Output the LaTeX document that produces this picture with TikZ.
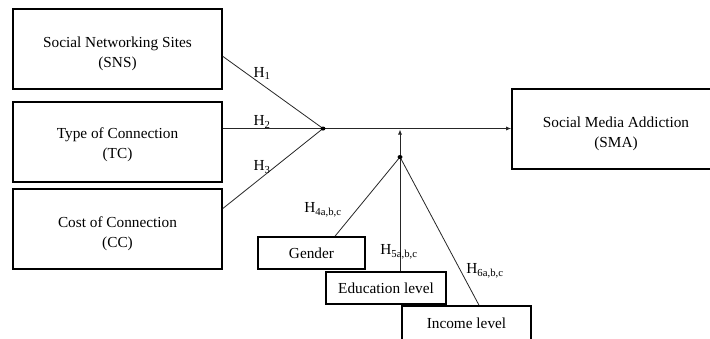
\documentclass[tikz,border=0pt]{standalone}
\usepackage{fontspec}
\setmainfont{Liberation Serif}
\usetikzlibrary{arrows.meta,calc,shapes.geometric}
\begin{document}
\begin{tikzpicture}[x=1pt,y=-1pt,
  box/.style={draw=black,line width=1.6pt,inner sep=0pt},
  btext/.style={inner sep=0pt,align=center,font=\fontsize{15.3}{20}\selectfont},
  link/.style={draw=black!85,line width=0.8pt},
  arr/.style={link,-{Latex[length=5pt,width=4pt]}},
  hlab/.style={font=\fontsize{15.3}{18}\selectfont,inner sep=0pt},
  dot/.style={fill=black,ellipse,inner sep=0pt,minimum width=5pt,minimum height=4pt,draw=none}]
\useasboundingbox (0,0) rectangle (710,338);
\clip (0,0) rectangle (710,338);
\node[box,minimum width=209pt,minimum height=80pt] (sns) at (117.5,49) {};
\node[box,minimum width=209pt,minimum height=80pt] (tc) at (117.5,142) {};
\node[box,minimum width=209pt,minimum height=80pt] (cc) at (117.5,229) {};
\node[box,minimum width=208pt,minimum height=80pt] (sma) at (616,129) {};
\node[btext] (snst) at ([yshift=-4.5pt]sns.center) {Social Networking Sites\\(SNS)};
\node[btext] (tct) at ([yshift=-3pt]tc.center) {Type of Connection\\(TC)};
\node[btext] (cct) at ([yshift=-5pt]cc.center) {Cost of Connection\\(CC)};
\node[btext] (smat) at ([yshift=-5pt]sma.center) {Social Media Addiction\\(SMA)};
\node[box,btext,minimum width=107pt,minimum height=32pt] (gender) at (311.5,253) {Gender};
\node[box,btext,minimum width=120pt,minimum height=32pt] (edu) at (386,288) {Education level};
\node[box,btext,minimum width=129pt,minimum height=34pt] (income) at (466.5,323) {Income level};
\coordinate (j1) at (323,128.5);
\coordinate (j2) at (400,157);
\coordinate (m) at (400,129.5);
\draw[link] (sns.-4.4) -- (j1);
\draw[link] (tc.east |- j1) -- (j1);
\draw[link] (cc.11.4) -- (j1);
\draw[arr] (j1) -- (sma.west |- j1);
\draw[link] ([xshift=23.5pt]gender.north) -- (j2);
\draw[link] (edu.north -| j2) -- (j2);
\draw[link] ([xshift=12.5pt]income.north) -- (j2);
\draw[arr] (j2) -- (m);
\node[dot] (d1) at (j1) {};
\node[dot] (d2) at (j2) {};
\node[hlab] (h1) at (262,73.5) {H\textsubscript{1}};
\node[hlab] (h2) at (262,122) {H\textsubscript{2}};
\node[hlab] (h3) at (262,167) {H\textsubscript{3}};
\node[hlab] (h4) at (323,210) {H\textsubscript{4a,b,c}};
\node[hlab] (h5) at (399,252) {H\textsubscript{5a,b,c}};
\node[hlab] (h6) at (485,271) {H\textsubscript{6a,b,c}};
\end{tikzpicture}
\end{document}
